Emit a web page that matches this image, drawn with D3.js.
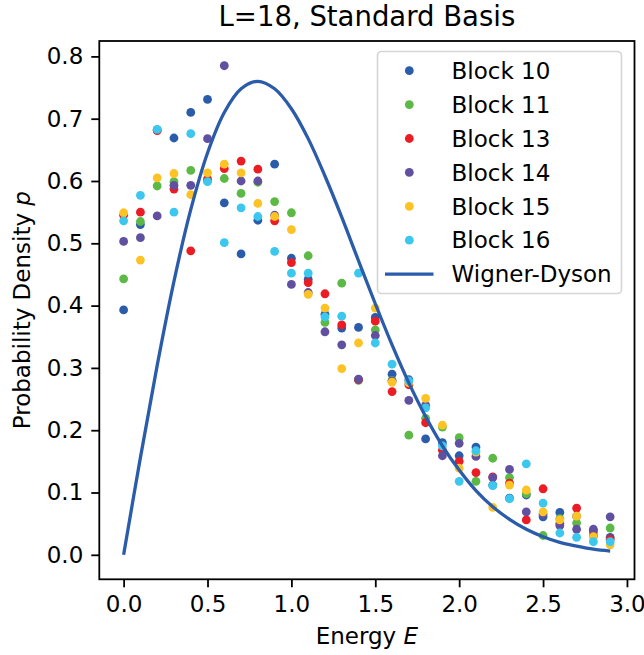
<!DOCTYPE html>
<html>
<head>
<meta charset="utf-8">
<script src="https://cdn.jsdelivr.net/npm/d3@7"></script>
<style>
  html, body { margin: 0; padding: 0; background: #fff; }
  svg { display: block; font-family: "DejaVu Sans", sans-serif; }
</style>
</head>
<body>
<svg id="chart" width="644" height="655"></svg>
<script>
// ---------- data ----------
const energies = [0.0,0.1,0.2,0.3,0.4,0.5,0.6,0.7,0.8,0.9,1.0,1.1,1.2,1.3,1.4,1.5,1.6,1.7,1.8,1.9,2.0,2.1,2.2,2.3,2.4,2.5,2.6,2.7,2.8,2.9];

const block10 = [0.393,0.530,0.682,0.669,0.710,0.731,0.565,0.483,0.537,0.627,0.476,0.442,0.386,0.364,0.365,0.381,0.290,0.281,0.186,0.180,0.159,0.173,0.112,0.091,0.096,0.061,0.068,0.062,0.030,0.028];
const block11 = [0.443,0.535,0.592,0.599,0.617,0.600,0.604,0.580,0.598,0.567,0.549,0.480,0.373,0.436,0.280,0.361,0.280,0.192,0.219,0.205,0.188,0.118,0.155,0.124,0.098,0.031,0.058,0.051,0.035,0.043];
const block13 = [0.545,0.550,0.681,0.587,0.488,0.603,0.620,0.632,0.619,0.536,0.469,0.437,0.419,0.369,0.281,0.375,0.262,0.273,0.212,0.168,0.150,0.132,0.125,0.115,0.056,0.106,0.050,0.075,0.039,0.025];
const block14 = [0.503,0.509,0.544,0.593,0.593,0.668,0.785,0.600,0.600,0.545,0.434,0.421,0.358,0.337,0.282,0.352,0.279,0.248,0.240,0.159,0.179,0.158,0.124,0.137,0.069,0.065,0.047,0.041,0.041,0.061];
const block15 = [0.549,0.473,0.605,0.612,0.578,0.613,0.627,0.613,0.564,0.543,0.522,0.418,0.396,0.299,0.340,0.396,0.277,0.276,0.251,0.208,0.139,0.165,0.076,0.112,0.104,0.069,0.056,0.062,0.029,0.016];
const block16 = [0.536,0.577,0.683,0.550,0.676,0.599,0.501,0.557,0.543,0.487,0.452,0.452,0.382,0.383,0.452,0.340,0.306,0.279,0.236,0.175,0.118,0.167,0.111,0.090,0.146,0.083,0.035,0.028,0.021,0.021];

// Wigner-Dyson (GOE surmise) values read at the same energies
const wignerDyson = [0.0,0.156,0.304,0.439,0.554,0.645,0.710,0.748,0.760,0.748,0.716,0.668,0.608,0.542,0.472,0.403,0.337,0.276,0.222,0.175,0.136,0.103,0.077,0.057,0.041,0.029,0.020,0.014,0.009,0.006];

const seriesNames = ["Block 10","Block 11","Block 13","Block 14","Block 15","Block 16"];
const seriesValues = [block10, block11, block13, block14, block15, block16];
const seriesColors = ["#2b5ca9","#5cb946","#ec1c24","#6150a0","#fdc325","#3cc7ee"];
const lineName = "Wigner-Dyson";
const lineColor = "#2b5ca9";

const xTicks = [0.0,0.5,1.0,1.5,2.0,2.5,3.0];
const yTicks = [0.0,0.1,0.2,0.3,0.4,0.5,0.6,0.7,0.8];

// ---------- layout ----------
const svg = d3.select("#chart");
const pLeft = 99.3, pRight = 634.5, pTop = 41, pBottom = 579.3;
const x = d3.scaleLinear().domain([-0.145, 3.045]).range([pLeft, pRight]);
const y = d3.scaleLinear().domain([-0.0393, 0.8247]).range([pBottom, pTop]);
const fontSize = 23;

// points
seriesValues.forEach((vals, i) => {
  svg.append("g")
    .selectAll("circle")
    .data(vals.map((v, j) => [energies[j], v]))
    .join("circle")
    .attr("cx", d => x(d[0]))
    .attr("cy", d => y(d[1]))
    .attr("r", 4.4)
    .attr("fill", seriesColors[i]);
});

// line
const line = d3.line().x(d => x(d[0])).y(d => y(d[1])).curve(d3.curveCatmullRom.alpha(0.5));
svg.append("path")
  .datum(wignerDyson.map((v, j) => [energies[j], v]))
  .attr("d", line)
  .attr("fill", "none")
  .attr("stroke", lineColor)
  .attr("stroke-width", 3.3);

// axes
const xAxis = svg.append("g").attr("transform", `translate(0,${pBottom})`)
  .call(d3.axisBottom(x).tickValues(xTicks).tickFormat(d3.format(".1f")).tickSize(8).tickPadding(8));
const yAxis = svg.append("g").attr("transform", `translate(${pLeft},0)`)
  .call(d3.axisLeft(y).tickValues(yTicks).tickFormat(d3.format(".1f")).tickSize(8).tickPadding(8));
[xAxis, yAxis].forEach(a => {
  a.select(".domain").remove();
  a.selectAll(".tick line").attr("stroke", "#000").attr("stroke-width", 1.8);
  a.selectAll(".tick text").attr("font-size", fontSize).attr("font-family", "DejaVu Sans").attr("fill", "#000");
});

// frame
svg.append("rect")
  .attr("x", pLeft).attr("y", pTop)
  .attr("width", pRight - pLeft).attr("height", pBottom - pTop)
  .attr("fill", "none").attr("stroke", "#000").attr("stroke-width", 1.8);

// title
svg.append("text")
  .attr("x", (pLeft + pRight) / 2).attr("y", 26)
  .attr("text-anchor", "middle").attr("font-size", 27.5)
  .text("L=18, Standard Basis");

// x label
const xl = svg.append("text")
  .attr("x", (pLeft + pRight) / 2).attr("y", 644)
  .attr("text-anchor", "middle").attr("font-size", fontSize);
xl.append("tspan").text("Energy ");
xl.append("tspan").attr("font-style", "italic").text("E");

// y label
const yl = svg.append("text")
  .attr("transform", `translate(30,${(pTop + pBottom) / 2}) rotate(-90)`)
  .attr("text-anchor", "middle").attr("font-size", fontSize);
yl.append("tspan").text("Probability Density ");
yl.append("tspan").attr("font-style", "italic").text("p");

// legend
const lg = svg.append("g");
lg.append("rect")
  .attr("x", 377.5).attr("y", 51.5).attr("width", 244).attr("height", 242)
  .attr("rx", 4).attr("ry", 4)
  .attr("fill", "#fff").attr("fill-opacity", 0.8)
  .attr("stroke", "#d5d5d5").attr("stroke-width", 1.6);
const entryY0 = 70.7, entryDy = 33.9;
seriesNames.forEach((name, i) => {
  const cy = entryY0 + i * entryDy;
  lg.append("circle").attr("cx", 409.3).attr("cy", cy).attr("r", 4.4).attr("fill", seriesColors[i]);
  lg.append("text").attr("x", 451.5).attr("y", cy).attr("dy", "0.36em")
    .attr("font-size", fontSize).text(name);
});
{
  const cy = entryY0 + 6 * entryDy;
  lg.append("line").attr("x1", 385).attr("x2", 433.5).attr("y1", cy).attr("y2", cy)
    .attr("stroke", lineColor).attr("stroke-width", 3.3);
  lg.append("text").attr("x", 451.5).attr("y", cy).attr("dy", "0.36em")
    .attr("font-size", fontSize).text(lineName);
}
</script>
</body>
</html>
